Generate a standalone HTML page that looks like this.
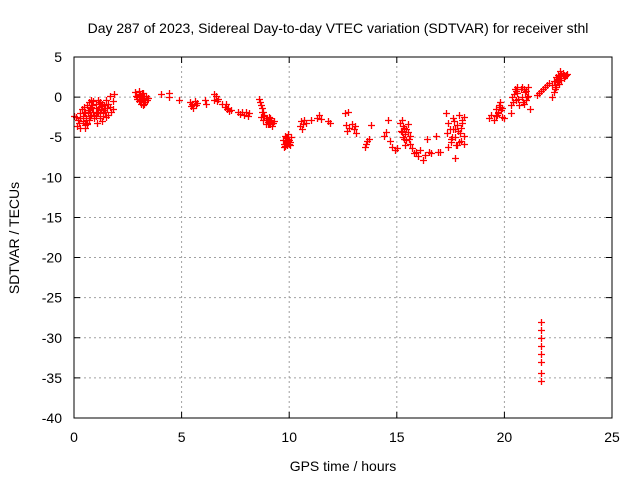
<!DOCTYPE html>
<html><head><meta charset="utf-8"><style>
body{margin:0;background:#fff}
svg{display:block;font-family:"Liberation Sans",sans-serif;font-size:14px}
</style></head><body>
<svg id="chart" width="640" height="480">
<g id="grid"></g>
<g id="ticks"></g>
<g id="marks"></g>
<rect x="74" y="57" width="538" height="361" fill="none" stroke="#000" stroke-width="1"/>
<text x="338" y="33" text-anchor="middle" fill="#000">Day 287 of 2023, Sidereal Day-to-day VTEC variation (SDTVAR) for receiver sthl</text>
<text x="343" y="471" text-anchor="middle">GPS time / hours</text>
<text transform="translate(19,238) rotate(-90)" text-anchor="middle">SDTVAR / TECUs</text>
</svg>
<script>
const xTicks=[0,5,10,15,20,25];
const yTicks=[5,0,-5,-10,-15,-20,-25,-30,-35,-40];
const hours=[0.0,0.1,0.15,0.2,0.25,0.3,0.3,0.35,0.4,0.4,0.45,0.5,0.5,0.55,0.6,0.6,0.65,0.7,0.7,0.75,0.8,0.8,0.85,0.9,0.9,0.95,1.0,1.0,1.05,1.1,1.1,1.15,1.2,1.2,1.25,1.3,1.3,1.35,1.4,1.45,1.5,1.5,1.55,1.6,1.6,1.65,1.65,1.7,1.8,1.8,1.85,
2.85,2.9,2.95,3.0,3.0,3.05,3.1,3.1,3.15,3.2,3.2,3.25,3.3,3.35,3.4,3.45,
4.05,4.4,4.4,4.9,
5.4,5.45,5.5,5.55,5.6,5.65,5.7,
6.1,6.15,6.5,6.5,6.6,6.65,6.7,
6.9,7.0,7.05,7.1,7.15,7.2,7.3,
7.6,7.7,7.8,7.9,8.0,8.1,8.15,
8.6,8.65,8.7,8.75,8.8,8.85,8.9,8.95,9.0,9.05,9.1,9.15,9.2,9.25,8.7,8.8,9.3,
9.7,9.75,9.8,9.85,9.9,9.95,10.0,10.05,10.1,
10.5,10.55,10.6,10.65,10.7,10.8,11.0,11.3,11.4,11.5,11.8,11.9,
12.6,12.65,12.7,12.75,12.8,12.9,13.0,13.05,13.1,
13.5,13.55,13.6,13.7,13.8,
14.4,14.5,14.6,14.7,14.8,14.9,15.0,
15.15,15.2,15.25,15.3,15.35,15.4,15.45,15.5,15.6,15.6,
15.7,15.8,15.9,16.0,16.1,16.2,16.3,16.4,16.5,16.6,16.8,16.9,17.0,
17.3,17.35,17.4,17.4,17.5,17.6,17.6,17.7,17.7,17.8,17.8,17.9,17.95,18.0,18.05,18.1,18.1,
19.3,19.4,19.5,19.6,19.7,19.75,19.8,19.9,19.9,20.0,
20.3,20.3,20.35,20.4,20.5,20.55,20.6,20.7,20.8,20.8,20.9,21.0,21.0,21.1,21.1,21.2,
21.5,21.6,21.7,21.8,21.9,22.0,22.05,
22.2,22.3,22.4,22.5,22.6,22.7,22.3,22.4,22.5,22.6,22.7,22.8,22.9,22.2,22.35,
21.7,21.7,21.7,21.7,21.7,21.7,21.7,21.7,
0.3,0.45,0.55,0.65,0.75,0.85,0.95,1.05,1.15,1.25,1.35,1.45,0.5,0.6,0.7,0.8,1.0,1.2,1.4,
2.95,3.05,3.15,3.25,3.0,3.2,
8.75,8.85,8.95,9.05,9.15,9.0,9.1,8.9,9.2,
9.75,9.85,9.95,10.05,9.8,9.9,10.0,
15.25,15.35,15.45,15.55,15.3,15.5,15.4,
17.45,17.55,17.65,17.75,17.85,18.0,18.1,17.5,17.7,17.9,18.05,
19.6,19.7,19.8,19.85,19.65,
20.45,20.55,20.65,20.75,20.85,20.95,21.05,20.6,20.9,
22.35,22.45,22.55,22.65,22.75,22.85,22.45,22.55,22.65,22.75];
const sdtvar=[-2.3,-2.5,-3.6,-2.8,-3.2,-3.9,-2.0,-1.5,-3.0,-2.4,-1.2,-3.5,-1.8,-2.6,-1.0,-3.2,-2.0,-0.6,-2.8,-1.4,-0.3,-2.2,-1.0,-0.5,-1.8,-2.6,-0.8,-1.4,-3.2,-0.4,-2.0,-1.2,-0.6,-2.6,-1.5,-0.8,-3.0,-2.0,-1.0,-1.8,-0.3,-2.5,-1.4,-0.8,-2.2,0.2,-1.2,-1.8,-0.5,-1.5,0.4,
0.6,0.2,-0.2,0.7,-0.5,0.3,-0.8,0,0.5,-0.3,-1.0,0.2,-0.6,0.1,-0.4,-0.1,
0.4,0.5,0.0,-0.4,
-0.6,-1.1,-0.8,-1.3,-0.5,-1.0,-0.7,
-0.3,-0.9,0.4,-0.3,0.1,-0.5,-0.2,
-0.8,-1.2,-0.9,-1.5,-1.3,-1.7,-1.6,
-1.9,-2.1,-1.8,-2.2,-1.9,-2.4,-2.0,
-0.2,-0.6,-1.0,-1.4,-1.8,-2.2,-2.6,-2.9,-3.1,-2.5,-3.4,-2.8,-3.6,-3.2,-2.5,-2.9,-3.0,
-5.3,-6.2,-4.8,-5.6,-6.0,-4.6,-5.3,-6.0,-5.0,
-3.6,-3.0,-4.0,-3.3,-2.8,-3.2,-2.8,-2.6,-2.2,-2.7,-3.0,-3.2,
-2.0,-3.5,-4.2,-1.9,-3.8,-3.3,-4.0,-3.6,-4.5,
-6.2,-5.8,-5.5,-5.2,-3.5,
-4.8,-4.4,-2.8,-5.5,-6.2,-6.6,-6.4,
-3.2,-4.2,-2.8,-5.0,-3.8,-4.6,-5.4,-3.4,-4.8,-5.8,
-6.4,-7.0,-6.8,-7.4,-6.6,-7.8,-7.2,-5.2,-6.8,-7.0,-4.8,-6.9,-6.8,
-2.0,-4.5,-6.2,-3.2,-5.6,-2.6,-4.0,-7.6,-5.0,-3.5,-6.0,-2.2,-4.5,-5.5,-3.2,-2.5,-5.8,
-2.6,-2.2,-2.8,-1.5,-2.0,-1.0,-0.6,-2.5,-1.4,-2.6,
-1.0,-2.0,0.0,-0.6,1.0,-0.3,0.5,-1.0,1.2,0.0,-0.8,0.8,-0.4,1.3,0.2,-1.5,
0.3,0.5,0.8,1.0,1.2,1.5,1.8,
0.0,0.6,1.2,1.9,2.4,2.8,2.0,2.5,2.8,3.2,3.0,2.6,2.9,1.5,1.0,
-28,-29,-30,-31,-32,-33,-34.4,-35.4,
-2.6,-2.0,-2.9,-1.6,-2.4,-1.3,-2.2,-1.8,-0.9,-1.1,-2.4,-1.4,-3.8,-3.4,-1.6,-1.2,-2.4,-2.0,-1.6,
0.0,-0.4,0.1,-0.8,0.4,0.5,
-1.8,-2.4,-2.8,-3.3,-3.0,-3.4,-2.6,-3.3,-3.2,
-5.8,-5.1,-5.5,-5.6,-6.1,-5.0,-5.8,
-4.4,-5.2,-4.0,-5.2,-3.6,-4.4,-6.0,
-4.0,-5.0,-3.0,-6.0,-4.2,-3.8,-4.8,-5.2,-4.0,-5.6,-2.8,
-2.4,-1.8,-1.2,-1.6,-2.2,
0.4,0.8,-0.2,1.0,-0.6,0.6,0.0,1.3,1.0,
1.5,2.1,2.6,2.9,2.4,2.7,2.2,1.6,2.1,2.8];
const NS='http://www.w3.org/2000/svg';
const X0=74,X1=612,Y0=418,Y1=57;
const xs=h=>X0+(h-0)/25*(X1-X0);
const ys=v=>Y0-(v+40)/45*(Y0-Y1);
function mk(tag,attrs,parent){const e=document.createElementNS(NS,tag);for(const k in attrs)e.setAttribute(k,attrs[k]);parent.appendChild(e);return e;}
const grid=document.getElementById('grid'),ticks=document.getElementById('ticks'),marks=document.getElementById('marks');
xTicks.forEach(t=>{const x=xs(t);
 if(t>0&&t<25){const g=mk('line',{x1:x,x2:x,y1:Y0,y2:Y1,stroke:'#a0a0a0','stroke-dasharray':'2,3'},grid);
 
 }
 const tk=mk('path',{d:`M${x},${Y0}v-6M${x},${Y1}v6`,stroke:'#000'},ticks);
 
 
 const lb=mk('text',{x:x,y:442,'text-anchor':'middle'},ticks);lb.textContent=t;
 
 });
yTicks.forEach(t=>{const y=ys(t);
 if(t>-40&&t<5){const g=mk('line',{x1:X0,x2:X1,y1:y,y2:y,stroke:'#a0a0a0','stroke-dasharray':'2,3'},grid);
 
 }
 const tk=mk('path',{d:`M${X0},${y}h6M${X1},${y}h-6`,stroke:'#000'},ticks);
 
 
 const lb=mk('text',{x:62,y:y+5,'text-anchor':'end'},ticks);lb.textContent=t;
 
 });
let d='';
hours.forEach((h,i)=>{const x=Math.round(xs(h))+0.5,y=Math.round(ys(sdtvar[i]))+0.5;d+=`M${x-3.5},${y}h7M${x},${y-3.5}v7`;});
const p=mk('path',{d:d,stroke:'#ff0000','stroke-width':1.3,fill:'none'},marks);


</script>
</body></html>
